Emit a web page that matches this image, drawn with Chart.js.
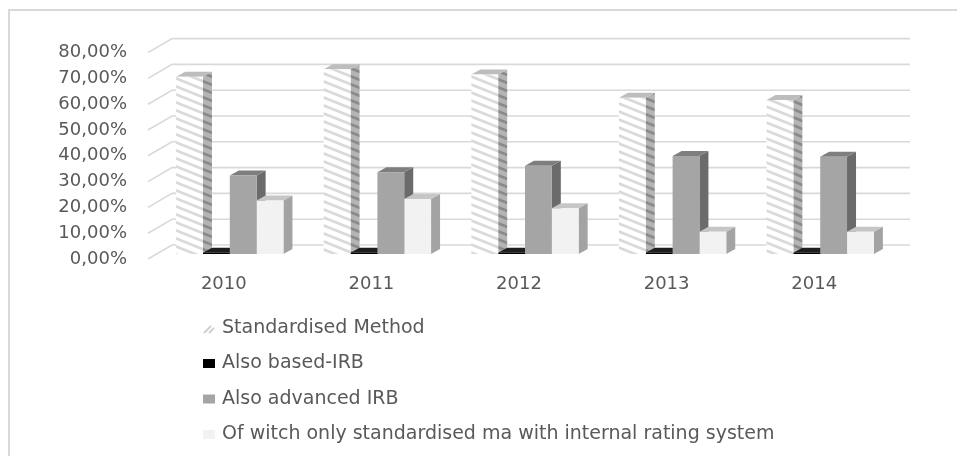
<!DOCTYPE html>
<html>
<head>
<meta charset="utf-8">
<script src="https://cdn.jsdelivr.net/npm/chart.js@4.4.0/dist/chart.umd.min.js"></script>
<style>
  html, body { margin: 0; padding: 0; background: #fff; }
  canvas { display: block; }
</style>
</head>
<body>
<canvas id="barChart" width="957" height="456"></canvas>
<script>
const years = ['2010', '2011', '2012', '2013', '2014']
const seriesNames = [
  'Standardised Method',
  'Also based-IRB',
  'Also advanced IRB',
  'Of witch only standardised ma with internal rating system'
]
const standardised = [68.7, 71.6, 69.6, 60.6, 59.7]
const basedIrb = [0.5, 0.5, 0.5, 0.5, 0.5]
const advancedIrb = [30.4, 31.7, 34.2, 38.0, 37.7]
const standardisedInternal = [20.7, 21.3, 17.7, 8.6, 8.6]
const yMax = 80
const yStep = 10

const FONT = 'DejaVu Sans'
const TEXT = '#595959'
const GRID = '#d9d9d9'

// bar depth, and where the side/back walls sit relative to the bar plane
const DEPTH = { dx: 9, dy: -5 }
const WALL = { dx: 16, dy: -9 }
const FRONT = { dx: -8, dy: 5 }

function stripes(bg, fg, lw) {
  const c = document.createElement('canvas')
  c.width = 20
  c.height = 8
  const g = c.getContext('2d')
  g.fillStyle = bg
  g.fillRect(0, 0, 20, 8)
  g.strokeStyle = fg
  g.lineWidth = lw
  for (const off of [-8, 0, 8]) {
    g.beginPath()
    g.moveTo(-20, off - 8)
    g.lineTo(40, off + 16)
    g.stroke()
  }
  return g.createPattern(c, 'repeat')
}

const ctx = document.getElementById('barChart').getContext('2d')
const hatchFront = stripes('#ffffff', '#d9d9d9', 2.6)
const hatchSide = stripes('#b4b4b4', '#8a8a8a', 2.6)

const fills = [hatchFront, '#000000', '#a5a5a5', '#f2f2f2']
const faces = [
  { side: hatchSide, top: '#bdbdbd' },
  { side: '#000000', top: '#1e1e1e' },
  { side: '#6b6b6b', top: '#7e7e7e' },
  { side: '#a3a3a3', top: '#c6c6c6' }
]

function poly(c, pts, fill) {
  c.beginPath()
  c.moveTo(pts[0][0], pts[0][1])
  for (let i = 1; i < pts.length; i++) c.lineTo(pts[i][0], pts[i][1])
  c.closePath()
  c.fillStyle = fill
  c.fill()
}

const box3d = {
  id: 'box3d',
  beforeDraw(chart) {
    const c = chart.ctx
    c.save()
    c.strokeStyle = GRID
    c.lineWidth = 2
    c.beginPath()
    c.moveTo(9, 456)
    c.lineTo(9, 10)
    c.lineTo(957, 10)
    c.stroke()
    c.restore()
  },
  beforeDatasetsDraw(chart) {
    const c = chart.ctx
    const { left, right } = chart.chartArea
    const y = chart.scales.y
    c.save()
    c.strokeStyle = GRID
    c.lineWidth = 1.6
    for (let v = 0; v <= yMax; v += yStep) {
      const py = y.getPixelForValue(v)
      c.beginPath()
      c.moveTo(left + FRONT.dx, py + FRONT.dy)
      c.lineTo(left + WALL.dx, py + WALL.dy)
      c.lineTo(right + WALL.dx, py + WALL.dy)
      c.stroke()
    }
    chart.data.datasets.forEach((ds, i) => {
      const f = faces[i]
      chart.getDatasetMeta(i).data.forEach(bar => {
        const { x, y: top, base, width } = bar.getProps(['x', 'y', 'base', 'width'], true)
        const l = x - width / 2
        const r = x + width / 2
        poly(c, [[r, top], [r + DEPTH.dx, top + DEPTH.dy], [r + DEPTH.dx, base + DEPTH.dy], [r, base]], f.side)
        poly(c, [[l, top], [l + DEPTH.dx, top + DEPTH.dy], [r + DEPTH.dx, top + DEPTH.dy], [r, top]], f.top)
      })
    })
    c.restore()
  },
  afterDraw(chart) {
    const c = chart.ctx
    c.save()
    c.font = '19px "' + FONT + '"'
    c.textBaseline = 'middle'
    seriesNames.forEach((name, i) => {
      const cy = 328 + i * 35.5
      if (i === 0) {
        c.strokeStyle = '#d0d0d0'
        c.lineWidth = 2
        c.beginPath()
        c.moveTo(204, cy + 5)
        c.lineTo(211, cy - 2)
        c.moveTo(209, cy + 5)
        c.lineTo(214, cy)
        c.stroke()
      } else {
        c.fillStyle = fills[i]
        c.fillRect(203, cy - 4.5, 12, 9)
      }
      c.fillStyle = TEXT
      c.fillText(name, 222, cy)
    })
    c.restore()
  }
}

new Chart(ctx, {
  type: 'bar',
  data: {
    labels: years,
    datasets: [standardised, basedIrb, advancedIrb, standardisedInternal].map((d, i) => ({
      label: seriesNames[i],
      data: d,
      backgroundColor: fills[i],
      borderWidth: 0,
      barPercentage: 1,
      categoryPercentage: 0.727
    }))
  },
  options: {
    responsive: false,
    animation: false,
    layout: { padding: { top: 47.6, right: 63, bottom: 0, left: 0 } },
    plugins: {
      legend: { display: false },
      tooltip: { enabled: false }
    },
    scales: {
      x: {
        grid: { display: false, drawTicks: false },
        border: { display: false },
        ticks: {
          font: { family: FONT, size: 18 },
          color: TEXT,
          padding: 20,
          labelOffset: -6
        },
        afterFit: scale => { scale.height = 456 - 254 }
      },
      y: {
        min: 0,
        max: yMax,
        grid: { display: false, drawTicks: false },
        border: { display: false },
        ticks: {
          stepSize: yStep,
          font: { family: FONT, size: 18 },
          color: TEXT,
          padding: 29,
          labelOffset: 5,
          callback: v => v.toFixed(2).replace('.', ',') + '%'
        },
        afterFit: scale => { scale.width = 156 }
      }
    }
  },
  plugins: [box3d]
})
</script>
</body>
</html>
